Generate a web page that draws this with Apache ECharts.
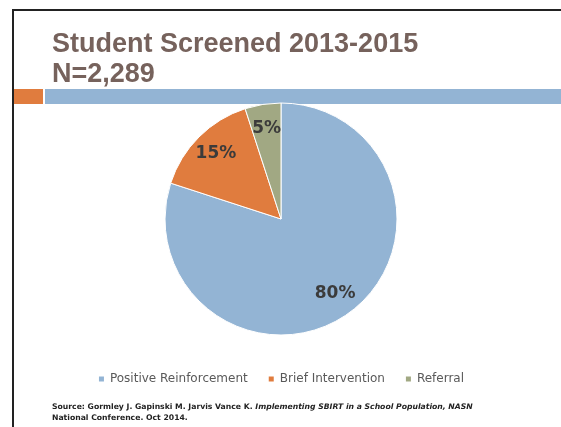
<!DOCTYPE html>
<html>
<head>
<meta charset="utf-8">
<script src="https://cdn.jsdelivr.net/npm/echarts@6/dist/echarts.min.js"></script>
<style>
  html, body { margin: 0; padding: 0; background: #fff; }
  #chart { width: 561px; height: 427px; }
</style>
</head>
<body>
<div id="chart"></div>
<script>
// data
const categories = ['Positive Reinforcement', 'Brief Intervention', 'Referral'];
const percents = [80, 15, 5];
const colors = ['#93b4d4', '#e07c3e', '#a1a883'];

const pieData = categories.map((name, i) => ({ name: name, value: percents[i] }));

let chart = echarts.init(document.getElementById('chart'));
let option = {
  backgroundColor: '#fff',
  color: colors,
  animation: false,
  title: {
    text: 'Student Screened 2013-2015\nN=2,289',
    left: 47,
    top: 25,
    textStyle: {
      fontFamily: 'Liberation Sans',
      fontWeight: 'bold',
      fontSize: 27,
      lineHeight: 30,
      color: '#76625c'
    }
  },
  legend: {
    data: categories,
    left: 'center',
    top: 368,
    itemWidth: 7,
    itemHeight: 7,
    itemGap: 19,
    icon: 'rect',
    textStyle: {
      fontFamily: 'DejaVu Sans',
      fontSize: 12,
      color: '#595959'
    }
  },
  graphic: [
    // slide frame
    { type: 'rect', shape: { x: 12, y: 9, width: 560, height: 2 }, style: { fill: '#222' } },
    { type: 'rect', shape: { x: 12, y: 9, width: 2, height: 430 }, style: { fill: '#222' } },
    // header bars
    { type: 'rect', shape: { x: 14, y: 89, width: 29, height: 15 }, style: { fill: '#e07c3e' } },
    { type: 'rect', shape: { x: 45, y: 89, width: 520, height: 15 }, style: { fill: '#93b4d4' } },
    {
      type: 'text',
      left: 52,
      top: 403,
      style: {
        text: '{b|Source: Gormley J. Gapinski M. Jarvis Vance K. }{i|Implementing SBIRT in a School Population, NASN}\n{b|National Conference. Oct 2014.}',
        rich: {
          b: { fontFamily: 'DejaVu Sans', fontWeight: 'bold', fontSize: 7.7, lineHeight: 11, fill: '#222' },
          i: { fontFamily: 'DejaVu Sans', fontWeight: 'bold', fontStyle: 'italic', fontSize: 7.7, lineHeight: 11, fill: '#222' }
        }
      }
    }
  ],
  series: [
    {
      type: 'pie',
      center: [281, 219],
      radius: [0, 116],
      startAngle: 90,
      clockwise: true,
      silent: true,
      itemStyle: { borderColor: '#fff', borderWidth: 1 },
      label: { show: false },
      labelLine: { show: false },
      data: pieData
    },
    {
      // label ring, puts the percent labels further out
      type: 'pie',
      center: [281, 219],
      radius: [62, 116],
      startAngle: 90,
      clockwise: true,
      silent: true,
      itemStyle: { color: 'rgba(0,0,0,0)' },
      label: {
        show: true,
        position: 'inside',
        formatter: '{c}%',
        fontFamily: 'DejaVu Sans',
        fontWeight: 'bold',
        fontSize: 17,
        color: '#3b3b3b'
      },
      labelLine: { show: false },
      data: pieData
    }
  ]
};
chart.setOption(option);
</script>
</body>
</html>
